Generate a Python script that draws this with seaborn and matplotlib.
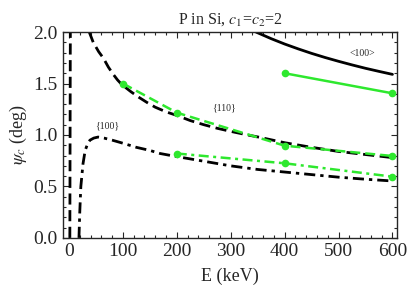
import matplotlib
matplotlib.use("Agg")
import matplotlib.pyplot as plt
import seaborn as sns
from matplotlib.ticker import MultipleLocator

# ---- data ----
# <100> axial (black solid)
E_ax100 = [347, 375, 400, 425, 450, 475, 500, 525, 550, 575, 600]
psi_ax100 = [2.00, 1.936, 1.884, 1.837, 1.793, 1.753, 1.716, 1.681, 1.648, 1.618, 1.589]
# {110} planar (black dashed)
E_pl110 = [1.6, 2.0, 2.4, 2.8, 8, 20, 30, 37.6, 45, 55, 64, 73, 82, 90, 98, 115, 130, 145, 160, 180, 200, 225, 250, 275, 300, 327, 354, 400, 450, 500, 550, 600]
psi_pl110 = [0.0, 0.9, 1.8, 2.3, 3.5, 2.6, 2.2, 2.00, 1.90, 1.81, 1.745, 1.66, 1.59, 1.535, 1.49, 1.42, 1.365, 1.315, 1.27, 1.225, 1.19, 1.14, 1.10, 1.065, 1.035, 1.005, 0.977, 0.925, 0.88, 0.84, 0.81, 0.78]
# {100} planar (black dash-dot)
E_pl100 = [18.5, 20, 22, 26, 30, 35, 39, 46, 54, 65, 80, 100, 125, 150, 169, 200, 250, 300, 350, 400, 450, 500, 550, 600]
psi_pl100 = [0.0, 0.25, 0.50, 0.72, 0.85, 0.92, 0.95, 0.97, 0.98, 0.97, 0.95, 0.92, 0.88, 0.85, 0.82, 0.79, 0.745, 0.70, 0.665, 0.64, 0.615, 0.59, 0.57, 0.553]
# simulation points (green)
E_sim_ax = [400, 600]
psi_sim_ax = [1.60, 1.405]
E_sim_110 = [100, 200, 400, 600]
psi_sim_110 = [1.50, 1.217, 0.896, 0.796]
E_sim_100 = [200, 400, 600]
psi_sim_100 = [0.82, 0.725, 0.595]

x_ticks = [0, 100, 200, 300, 400, 500, 600]
y_ticks = [0.0, 0.5, 1.0, 1.5, 2.0]

sns.set_style("ticks")
plt.rcParams["font.family"] = ["Liberation Serif", "DejaVu Serif"]
plt.rcParams["mathtext.fontset"] = "stix"

fig = plt.figure(figsize=(4.07, 2.97), dpi=100)
ax = fig.add_axes([0.1536, 0.199, 0.8226, 0.693])

green = "#2ee82e"
sns.lineplot(x=E_ax100, y=psi_ax100, ax=ax, color="black", lw=2.0, sort=False, estimator=None)
sns.lineplot(x=E_pl110, y=psi_pl110, ax=ax, color="black", lw=2.0, sort=False, estimator=None,
             linestyle=(0, (4, 2)))
sns.lineplot(x=E_pl100, y=psi_pl100, ax=ax, color="black", lw=2.0, sort=False, estimator=None,
             linestyle=(0, (4, 1.8, 1.2, 1.8)))
sns.lineplot(x=E_sim_ax, y=psi_sim_ax, ax=ax, color=green, lw=1.8, sort=False, estimator=None,
             marker="o", markersize=5.5, markeredgewidth=0)
sns.lineplot(x=E_sim_110, y=psi_sim_110, ax=ax, color=green, lw=1.8, sort=False, estimator=None,
             marker="o", markersize=5.5, markeredgewidth=0, linestyle=(0, (4, 2)))
sns.lineplot(x=E_sim_100, y=psi_sim_100, ax=ax, color=green, lw=1.8, sort=False, estimator=None,
             marker="o", markersize=5.5, markeredgewidth=0, linestyle=(0, (4, 1.8, 1.2, 1.8)))

ax.set_xlim(-12, 609)
ax.set_ylim(0, 2.0)
ax.set_xticks(x_ticks)
ax.set_yticks(y_ticks)
ax.set_xticklabels([str(v) for v in x_ticks])
ax.set_yticklabels([f"{v:.1f}" for v in y_ticks])
ax.xaxis.set_minor_locator(MultipleLocator(20))
ax.yaxis.set_minor_locator(MultipleLocator(0.1))
ax.tick_params(which="both", direction="in", top=True, right=True, labelsize=14, width=0.8)
ax.tick_params(which="major", length=4.5)
ax.tick_params(which="minor", length=2.5)
for s in ax.spines.values():
    s.set_linewidth(1.0)
    s.set_visible(True)

ax.set_xlabel("E (keV)", fontsize=13, labelpad=6)
ax.set_ylabel(r"$\psi_c$ (deg)", fontsize=13, labelpad=3)
ax.set_title(r"P in Si, $c_1$=$c_2$=2", fontsize=11.5, pad=6)

ax.text(545, 1.79, "<100>", fontsize=7, ha="center", va="center")
ax.text(287, 1.26, "{110}", fontsize=7, ha="center", va="center")
ax.text(70, 1.09, "{100}", fontsize=7, ha="center", va="center")

fig.savefig("out.png", dpi=100)
